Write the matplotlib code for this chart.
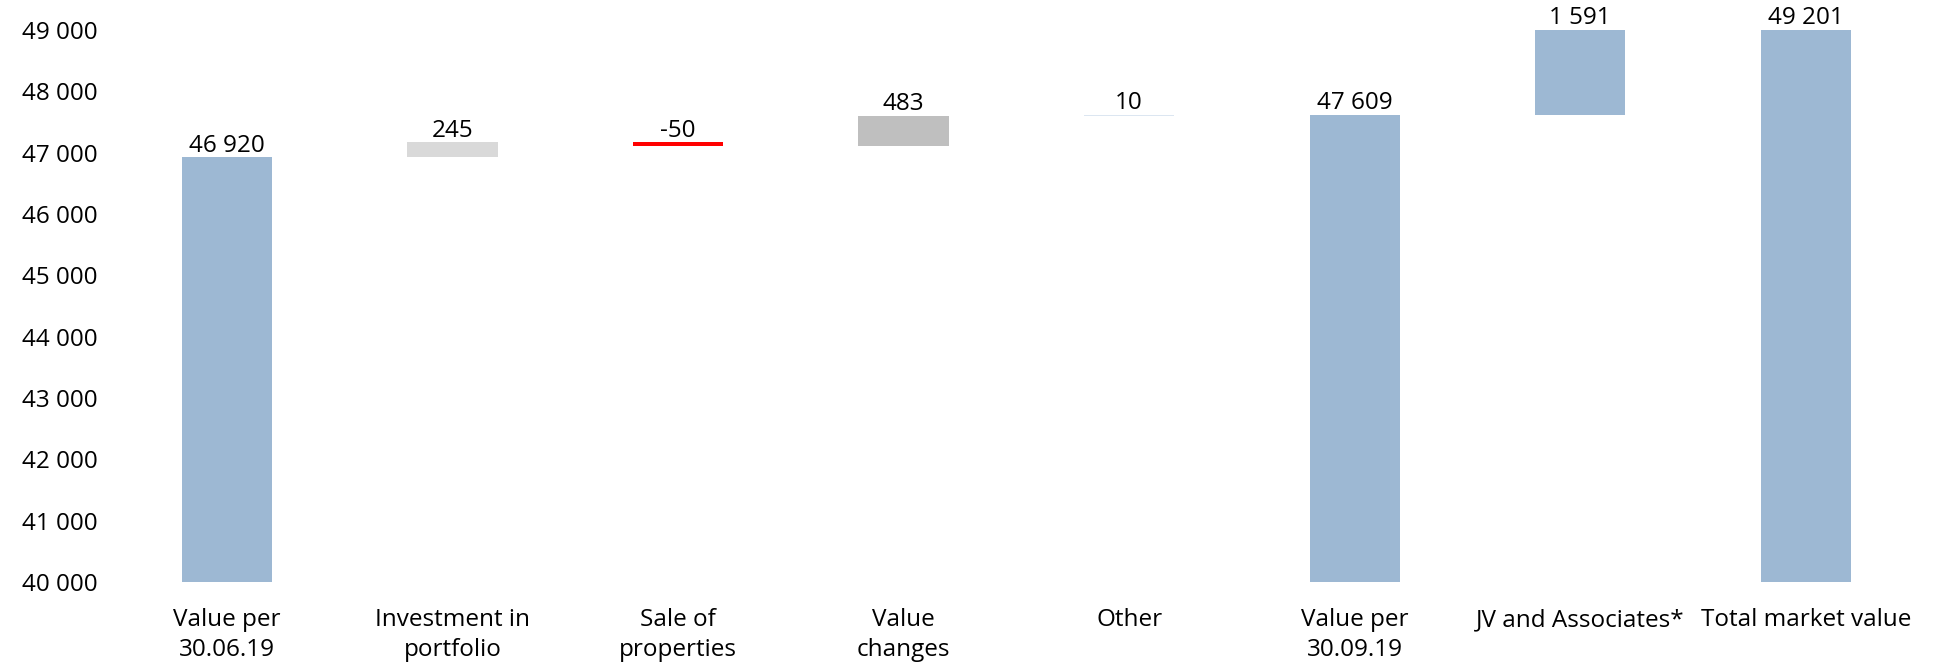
import matplotlib.pyplot as plt
import numpy as np

plt.rcParams['font.family'] = ['Open Sans', 'DejaVu Sans']

# waterfall data
categories = ["Value per\n30.06.19", "Investment in\nportfolio", "Sale of\nproperties",
              "Value\nchanges", "Other", "Value per\n30.09.19", "JV and Associates*",
              "Total market value"]
changes = [46920, 245, -50, 483, 10, 47609, 1591, 49201]
is_total = [True, False, False, False, False, True, False, True]
labels = ["46 920", "245", "-50", "483", "10", "47 609", "1 591", "49 201"]
colors = ["#9db8d3", "#d9d9d9", "#ff0000", "#bfbfbf", "#dce6f1", "#9db8d3", "#9db8d3", "#9db8d3"]

base = 40000
ymax = 49000
bottoms, heights = [], []
running = 0
for val, tot in zip(changes, is_total):
    if tot:
        bottoms.append(base)
        heights.append(val - base)
        running = val
    else:
        if val >= 0:
            bottoms.append(running)
            heights.append(val)
        else:
            bottoms.append(running + val)
            heights.append(-val)
        running += val

fig = plt.figure(figsize=(19.34, 6.64), dpi=100)
ax = fig.add_axes([0.059, 0.1235, 0.933, 0.8315])

x = np.arange(len(categories))
ax.bar(x, heights, bottom=bottoms, width=0.4, color=colors)

# labels sit above the visible (clipped) top of each bar
for xi, b, h, lab in zip(x, bottoms, heights, labels):
    top = min(b + h, ymax)
    ax.text(xi, top + 95, lab, ha='center', va='baseline', fontsize=17.5, clip_on=False)

ax.set_xlim(-0.5, len(categories) - 0.5)
ax.set_ylim(base, ymax)
ax.set_yticks(np.arange(base, ymax + 1, 1000))
ax.set_yticklabels([f"{v:,}".replace(",", " ") for v in range(base, ymax + 1, 1000)], fontsize=17.5)
ax.set_xticks(x)
ax.set_xticklabels(categories, fontsize=17.5, linespacing=1.3)
ax.tick_params(length=0)
ax.tick_params(axis='x', pad=19)
ax.tick_params(axis='y', pad=12)
for s in ax.spines.values():
    s.set_visible(False)

fig.savefig("out.png", dpi=100)
